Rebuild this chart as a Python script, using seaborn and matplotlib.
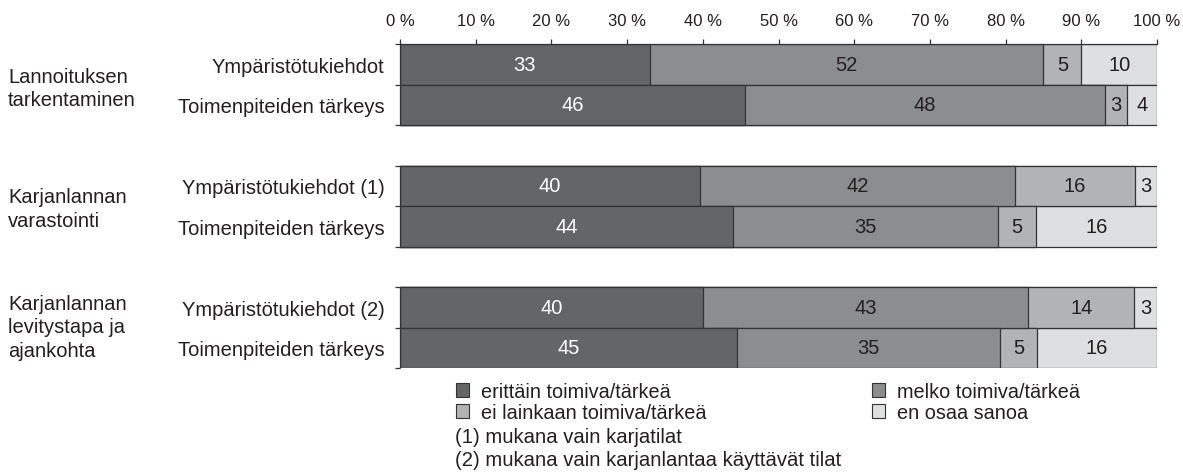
import numpy as np
import pandas as pd
import matplotlib
matplotlib.use("Agg")
import matplotlib.pyplot as plt
from matplotlib.patches import Patch
import seaborn as sns

# ---- data ----
row_labels = ["Ympäristötukiehdot", "Toimenpiteiden tärkeys",
              "Ympäristötukiehdot (1)", "Toimenpiteiden tärkeys",
              "Ympäristötukiehdot (2)", "Toimenpiteiden tärkeys"]
group_labels = ["Lannoituksen\ntarkentaminen",
                "Karjanlannan\nvarastointi",
                "Karjanlannan\nlevitystapa ja\najankohta"]
series_names = ["erittäin toimiva/tärkeä", "melko toimiva/tärkeä",
                "ei lainkaan toimiva/tärkeä", "en osaa sanoa"]
erittain = [33, 46, 40, 44, 40, 45]
melko = [52, 48, 42, 35, 43, 35]
ei_lainkaan = [5, 3, 16, 5, 14, 5]
en_osaa = [10, 4, 3, 16, 3, 16]
xtick_values = [0, 10, 20, 30, 40, 50, 60, 70, 80, 90, 100]
footnotes = ["(1) mukana vain karjatilat",
             "(2) mukana vain karjanlantaa käyttävät tilat"]

colors = ["#646567", "#8c8d8f", "#b2b3b5", "#dedfe0"]
text_colors = ["white", "#231f20", "#231f20", "#231f20"]
ink = "#231f20"
edge = "#333333"

sns.set_theme(style="white")
plt.rcParams["font.family"] = ["Liberation Sans", "DejaVu Sans"]

vals = np.array([erittain, melko, ei_lainkaan, en_osaa], dtype=float).T  # rows x series
shares = vals / vals.sum(axis=1, keepdims=True) * 100
cum = np.cumsum(shares, axis=1)

# y positions: groups of two bars separated by a gap
pos = np.array([0, 1, 3, 4, 6, 7], dtype=float)
df = pd.DataFrame({"pos": pos})
for j in range(4):
    df[f"c{j}"] = cum[:, j]

W, H = 1183, 477
fig = plt.figure(figsize=(W / 100, H / 100), dpi=100)
ax = fig.add_axes([400 / W, 1 - 369 / H, 757 / W, 324 / H])

for j in [3, 2, 1, 0]:
    sns.barplot(data=df, x=f"c{j}", y="pos", orient="y", native_scale=True,
                color=colors[j], saturation=1, width=1.0, errorbar=None,
                edgecolor=edge, linewidth=0.9, ax=ax)

# value labels
for i in range(len(pos)):
    for j in range(4):
        c = cum[i, j] - shares[i, j] / 2
        ax.text(c, pos[i], f"{int(vals[i, j])}", ha="center", va="center",
                fontsize=14.5, color=text_colors[j])

ax.set_xlim(0, 100)
ax.set_ylim(7.5, -0.5)
ax.xaxis.tick_top()
ax.set_xticks(xtick_values)
ax.set_xticklabels([f"{v} %" for v in xtick_values], fontsize=12)
ax.tick_params(axis="x", which="major", top=True, bottom=False, length=3.5,
               width=0.9, color=edge, pad=8, labelcolor=ink)
ax.set_yticks(pos)
ax.set_yticklabels(row_labels, fontsize=14.5, color=ink)
ax.tick_params(axis="y", which="major", length=0, pad=11)
ax.set_yticks([-0.5, 0.5, 1.5, 2.5, 3.5, 4.5, 5.5, 6.5, 7.5], minor=True)
ax.tick_params(axis="y", which="minor", left=True, length=3.5, width=0.9, color=edge)
ax.set_xlabel("")
ax.set_ylabel("")
for s in ["left", "right", "bottom"]:
    ax.spines[s].set_visible(False)
ax.spines["top"].set_color(edge)
ax.spines["top"].set_linewidth(0.9)
# group brackets on left
for g0 in [-0.5, 2.5, 5.5]:
    ax.vlines(0, g0, g0 + 2, color=edge, linewidth=0.9, clip_on=False)

# group labels
group_centers = [0.5, 3.5, 6.5]
label_offsets = [0.09, 0.06, -0.02]
trans = matplotlib.transforms.blended_transform_factory(fig.transFigure, ax.transData)
for lab, yc, off in zip(group_labels, group_centers, label_offsets):
    ax.text(8 / W, yc + off, lab, transform=trans, ha="left", va="center",
            fontsize=14.5, color=ink, linespacing=1.3)

# legend (two columns placed separately)
col_a = [Patch(facecolor=colors[k], edgecolor=edge, linewidth=0.8, label=series_names[k])
         for k in [0, 2]]
col_b = [Patch(facecolor=colors[k], edgecolor=edge, linewidth=0.8, label=series_names[k])
         for k in [1, 3]]
leg_kw = dict(loc="upper left", frameon=False, fontsize=14.3, handlelength=0.65,
              handleheight=0.65, handletextpad=0.6, labelspacing=0.1, borderpad=0,
              borderaxespad=0, labelcolor=ink)
fig.legend(handles=col_a, bbox_to_anchor=(456 / W, 1 - 383 / H), **leg_kw)
fig.legend(handles=col_b, bbox_to_anchor=(872 / W, 1 - 383 / H), **leg_kw)

fig.text(455 / W, 1 - 438 / H, footnotes[0], fontsize=14.6,
         va="center", ha="left", color=ink)
fig.text(455 / W, 1 - 461 / H, footnotes[1], fontsize=14.6,
         va="center", ha="left", color=ink)

fig.savefig("out.png", dpi=100)
